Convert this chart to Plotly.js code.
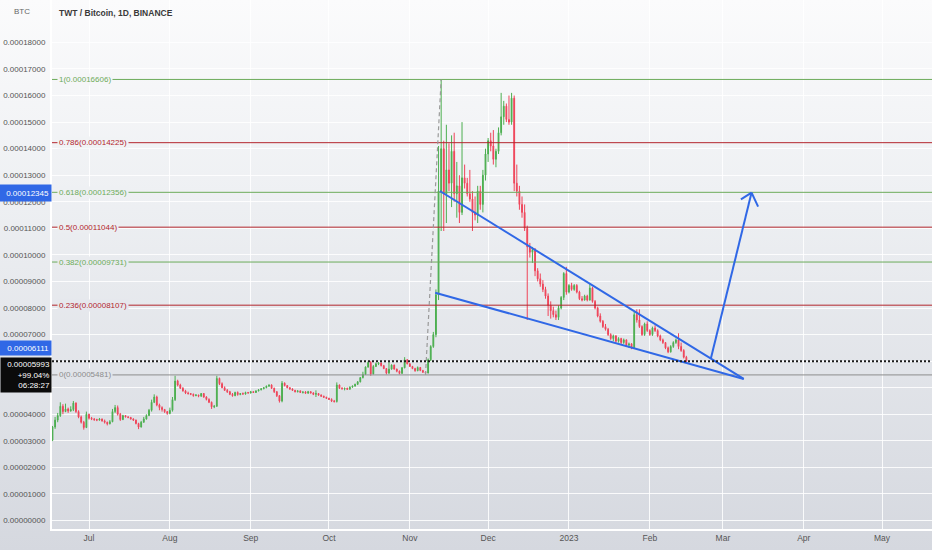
<!DOCTYPE html>
<html>
<head>
<meta charset="utf-8">
<script src="https://cdn.plot.ly/plotly-3.0.1.min.js"></script>
<style>
  html, body { margin: 0; padding: 0; }
  body { width: 932px; height: 550px; background: linear-gradient(180deg, #fbfbfc 0%, #eef0f3 35%, #d5d8df 100%); }
  #chart { width: 932px; height: 550px; }
</style>
</head>
<body>
<div id="chart"></div>
<script>
// TWT / BTC daily candles, prices in satoshi (1e-8 BTC)
const firstDay = '2022-06-17';
const SAT = 1e-8;

const open = [
  3020,3520,3780,3950,4300,4100,4200,4120,4180,4420,4100,3900,3700,3500,4000,3850,3820,3800,3780,3820,
  3750,3700,3640,3720,4100,4250,4000,3800,3950,3900,3880,3820,3780,3650,3520,3700,3820,3950,4150,4450,
  4650,4350,4250,4180,4100,4030,4150,4550,5250,5100,4980,4880,4800,4780,4750,4700,4720,4680,4780,4650,
  4560,4450,4280,4300,5350,5150,5000,4900,4850,4750,4700,4820,4740,4780,4760,4820,4800,4850,4820,4880,
  4920,4960,5000,5060,5100,4980,4850,4700,4500,5170,5080,5000,4950,4900,4850,4880,4820,4840,4790,4850,
  4800,4750,4780,4720,4680,4640,4600,4560,4500,4480,5100,4980,4960,4980,4940,5020,5060,5130,5220,5380,
  5500,5780,5950,5520,5800,5900,5930,5830,5720,5550,5700,5850,5700,5620,5540,5750,6050,5900,5800,5720,
  5640,5760,5650,5580,5550,6050,6550,7000,8500,12400,14000,12300,13200,12700,13900,12300,12600,11600,12900,12700,
  12300,12100,11600,11500,12400,11900,13000,13800,14300,14100,13600,13900,14600,15200,15600,15100,15000,15900,12700,12400,
  11900,11600,11000,10300,10100,10200,9400,9100,8900,8700,8450,8100,7900,7750,7650,8000,8400,9300,8600,8850,
  8700,8850,8600,8350,8300,8450,8300,8750,8250,8000,7700,7500,7300,7200,7000,6850,6950,6750,6850,6700,
  6800,6600,6650,6500,7750,7550,7300,7000,7400,7150,7000,7250,7150,6950,6800,6700,6500,6350,6550,6700,
  6800,6550,6400,6150
];
const high = [
  3560,3900,4050,4450,4380,4400,4250,4300,4500,4450,4150,3950,3750,4100,4020,3900,3860,3830,3860,3840,
  3800,3720,3780,4200,4350,4330,4050,3980,3970,3930,3900,3850,3800,3680,3750,3900,4000,4200,4550,4750,
  4700,4400,4300,4200,4120,4250,4650,5450,5300,5150,5020,4920,4850,4800,4780,4760,4740,4800,4800,4680,
  4600,4480,4350,5450,5380,5200,5050,4950,4880,4800,4850,4860,4800,4820,4850,4840,4880,4870,4900,4940,
  4980,5020,5080,5120,5130,5000,4870,4720,5250,5200,5100,5020,4980,4920,4900,4900,4860,4870,4880,4870,
  4830,4900,4800,4750,4700,4660,4620,4600,4540,5200,5120,5020,5000,5000,5050,5080,5150,5250,5400,5600,
  5800,5990,6000,5850,5950,5960,5950,5860,5740,6000,5880,5870,5720,5650,5780,6150,6080,5920,5820,5750,
  5800,5780,5670,5620,6100,6600,7100,8700,14100,16606,14300,14900,14200,14500,14600,13500,13000,15000,13400,12900,
  13200,12400,12200,12600,12600,13200,14000,14400,14600,14700,14000,14800,16100,15800,15700,16000,16100,16000,13400,12600,
  12200,11900,11100,10450,10300,10260,9500,9300,9050,8800,8550,8250,8050,7900,8100,8450,9350,9550,8900,8950,
  8900,8900,8650,8450,8500,8500,8900,8800,8300,8050,7800,7550,7400,7250,7050,7000,6980,6900,6880,6850,
  6820,6700,6680,7850,7950,7950,7350,7450,7500,7200,7300,7350,7200,7000,6850,6720,6550,6600,6750,6850,
  7050,6700,6450,6200
];
const low = [
  2990,3450,3700,3900,4000,4080,4050,4100,4120,4050,3850,3650,3420,3480,3800,3780,3750,3740,3760,3720,
  3650,3580,3620,3700,4050,3950,3750,3780,3880,3850,3800,3750,3620,3440,3500,3680,3800,3930,4100,4420,
  4300,4150,4100,4050,3980,4000,4100,4500,5050,4950,4850,4760,4740,4720,4660,4680,4640,4660,4620,4520,
  4420,4200,4230,4280,5100,4980,4880,4800,4720,4660,4680,4700,4720,4740,4740,4780,4780,4800,4800,4860,
  4900,4940,4980,5020,4950,4800,4650,4440,4450,5050,4980,4920,4880,4820,4820,4800,4780,4770,4780,4780,
  4720,4650,4700,4660,4620,4580,4540,4460,4440,4440,4950,4930,4900,4920,4930,5000,5040,5100,5200,5350,
  5480,5750,5450,5500,5780,5850,5800,5700,5500,5520,5680,5680,5580,5500,5520,5730,5880,5780,5700,5600,
  5620,5620,5560,5481,5540,6000,6500,6900,8300,10900,10900,11200,12400,11800,12000,11400,11200,11500,12500,12200,
  12000,10900,11300,11200,11700,11600,12800,13500,13900,13400,13300,13800,14500,14900,15000,14900,14900,12400,12200,11700,
  11400,10900,7550,9900,9700,9200,9000,8800,8600,8350,7700,7600,7650,7550,7550,7950,8300,8500,8550,8650,
  8650,8550,8300,8250,8280,8250,8280,8200,7950,7650,7450,7250,7150,6950,6800,6750,6700,6700,6650,6650,
  6550,6500,6450,6480,7450,7250,6950,6950,7100,6950,6950,7100,6900,6750,6650,6450,6300,6320,6500,6650,
  6450,6350,6100,5950
];
const close = [
  3520,3780,3950,4300,4100,4200,4120,4180,4420,4100,3900,3700,3500,4000,3850,3820,3800,3780,3820,3750,
  3700,3640,3720,4100,4250,4000,3800,3950,3900,3880,3820,3780,3650,3520,3700,3820,3950,4150,4450,4650,
  4350,4250,4180,4100,4030,4150,4550,5250,5100,4980,4880,4800,4780,4750,4700,4720,4680,4780,4650,4560,
  4450,4280,4300,5350,5150,5000,4900,4850,4750,4700,4820,4740,4780,4760,4820,4800,4850,4820,4880,4920,
  4960,5000,5060,5100,4980,4850,4700,4500,5170,5080,5000,4950,4900,4850,4880,4820,4840,4790,4850,4800,
  4750,4780,4720,4680,4640,4600,4560,4500,4480,5100,4980,4960,4980,4940,5020,5060,5130,5220,5380,5500,
  5780,5950,5520,5800,5900,5930,5830,5720,5550,5700,5850,5700,5620,5540,5750,6050,5900,5800,5720,5640,
  5760,5650,5580,5550,6050,6550,7000,8500,12400,14000,12300,13200,12700,13900,12300,12600,11600,12900,12700,12300,
  12100,11600,11500,12400,11900,13000,13800,14300,14100,13600,13900,14600,15200,15600,15100,15000,15900,12700,12400,11900,
  11600,11000,10300,10100,10200,9400,9100,8900,8700,8450,8100,7900,7750,7650,8000,8400,9300,8600,8850,8700,
  8850,8600,8350,8300,8450,8300,8750,8250,8000,7700,7500,7300,7200,7000,6850,6950,6750,6850,6700,6800,
  6600,6650,6500,7750,7550,7300,7000,7400,7150,7000,7250,7150,6950,6800,6700,6500,6350,6550,6700,6800,
  6550,6400,6150,5993
];

// month ticks on the time axis
const monthTicks = ['2022-07-01','2022-08-01','2022-09-01','2022-10-01','2022-11-01','2022-12-01',
                    '2023-01-01','2023-02-01','2023-03-01','2023-04-01','2023-05-01'];
const monthLabels = ['Jul','Aug','Sep','Oct','Nov','Dec','2023','Feb','Mar','Apr','May'];
const priceTicks = [0,1000,2000,3000,4000,5000,6000,7000,8000,9000,10000,11000,12000,13000,14000,15000,16000,17000,18000];
// tick labels covered by the last-price boxes on the scale
const coveredTicks = [5000, 6000];

// fibonacci retracement (from swing low 5481 to swing high 16606)
const fibRatios = ['1','0.786','0.618','0.5','0.382','0.236','0'];
const fibPrices = [16606,14225,12356,11044,9731,8107,5481];
const fibColors = ['#6cab5a','#b3262d','#6cab5a','#b3262d','#6cab5a','#b3262d','#8c8c8c'];
const fibAnchorDates = ['2022-11-07','2022-11-13'];
const fibAnchorPrices = [5481,16606];

// falling wedge + target arrow drawn on the chart
const wedgeUpper = {dates: ['2022-11-12 12:00','2023-03-09 00:00'], prices: [12406,5330]};
const wedgeLower = {dates: ['2022-11-10 17:00','2023-03-09 00:00'], prices: [8577,5330]};
const arrowLine = {dates: ['2023-02-24 10:00','2023-03-12 00:00'], prices: [6111,12345]};
const arrowWingL = {dates: ['2023-03-07 22:00','2023-03-12 00:00'], prices: [12093,12345]};
const arrowWingR = {dates: ['2023-03-14 12:00','2023-03-12 00:00'], prices: [11815,12345]};

const lastPrice = 5993;
const lastChange = '+99.04%';
const countdown = '06:28:27';
const cursorPrices = [12345, 6111];

const dayMs = 86400000;
const t0 = Date.parse(firstDay + 'T00:00:00Z');
const dates = close.map((_, i) => new Date(t0 + i * dayMs).toISOString().slice(0, 10));
const toBtc = a => a.map(v => v * SAT);

const FONT = '"Liberation Sans", Arial, sans-serif';
const BLUE = '#3068e6';

// background colour under a pixel row, to mask the fib lines behind labels
function bgAt(py) {
  const stops = [[0, [251,251,252]], [192, [238,240,243]], [550, [213,216,223]]];
  for (let i = 1; i < stops.length; i++) {
    if (py <= stops[i][0]) {
      const f = (py - stops[i-1][0]) / (stops[i][0] - stops[i-1][0]);
      const c = stops[i-1][1].map((v, k) => Math.round(v + (stops[i][1][k] - v) * f));
      return 'rgb(' + c.join(',') + ')';
    }
  }
  return 'rgb(213,216,223)';
}
const yMin = -0.0000032, yMax = 0.00019597;
const pyOf = v => 529 * (yMax - v) / (yMax - yMin);

const candles = {
  type: 'candlestick',
  x: dates,
  open: toBtc(open), high: toBtc(high), low: toBtc(low), close: toBtc(close),
  increasing: {line: {color: '#4caf50', width: 1}, fillcolor: '#4caf50'},
  decreasing: {line: {color: '#ef4459', width: 1}, fillcolor: '#ef4459'},
  whiskerwidth: 0,
  hoverinfo: 'skip'
};

const shapes = [];
const annotations = [];

fibPrices.forEach((p, i) => {
  shapes.push({type: 'line', xref: 'paper', x0: 0, x1: 1, yref: 'y', y0: p * SAT, y1: p * SAT,
               line: {color: fibColors[i], width: 1}});
  annotations.push({xref: 'paper', x: 0, xshift: 5, xanchor: 'left', yref: 'y', y: p * SAT, yanchor: 'middle',
                    text: fibRatios[i] + '(' + (p * SAT).toFixed(8) + ')', showarrow: false,
                    font: {family: FONT, size: 8, color: fibColors[i]}, bgcolor: bgAt(pyOf(p * SAT)), borderpad: 1});
});

shapes.push({type: 'line', xref: 'x', yref: 'y', x0: fibAnchorDates[0], x1: fibAnchorDates[1],
             y0: fibAnchorPrices[0] * SAT, y1: fibAnchorPrices[1] * SAT,
             line: {color: '#9a9a9a', width: 1.2, dash: '4px,3px'}});

[wedgeUpper, wedgeLower, arrowLine, arrowWingL, arrowWingR].forEach(l => {
  shapes.push({type: 'line', xref: 'x', yref: 'y', x0: l.dates[0], x1: l.dates[1],
               y0: l.prices[0] * SAT, y1: l.prices[1] * SAT, line: {color: BLUE, width: 2}});
});

// last price dotted line
shapes.push({type: 'line', xref: 'paper', x0: 0, x1: 1, yref: 'y', y0: lastPrice * SAT, y1: lastPrice * SAT,
             line: {color: '#1b1b1b', width: 2, dash: '2px,2px'}});

// title and currency
annotations.push({xref: 'paper', x: 0, xshift: 5, xanchor: 'left', yref: 'paper', y: 1, yshift: -13, yanchor: 'middle',
                  text: '<b>TWT / Bitcoin, 1D, BINANCE</b>', showarrow: false,
                  font: {family: FONT, size: 8.5, color: '#3a3a3a'}});
annotations.push({xref: 'paper', x: 0, xshift: -40, xanchor: 'left', yref: 'paper', y: 1, yshift: -11, yanchor: 'middle',
                  text: 'BTC', showarrow: false, font: {family: FONT, size: 8, color: '#666'}});

// price labels on the axis
annotations.push({xref: 'paper', x: 0, xanchor: 'right', yref: 'y', y: cursorPrices[0] * SAT, yanchor: 'middle',
                  text: (cursorPrices[0] * SAT).toFixed(8), showarrow: false, align: 'right', width: 48, height: 12,
                  bgcolor: BLUE, borderpad: 2, font: {family: FONT, size: 8, color: '#fff'}});
annotations.push({xref: 'paper', x: 0, xanchor: 'right', yref: 'y', y: lastPrice * SAT, yanchor: 'bottom', yshift: 5,
                  text: (cursorPrices[1] * SAT).toFixed(8), showarrow: false, align: 'right', width: 48, height: 10,
                  bgcolor: BLUE, borderpad: 2, font: {family: FONT, size: 8, color: '#fff'}});
annotations.push({xref: 'paper', x: 0, xanchor: 'right', yref: 'y', y: lastPrice * SAT, yanchor: 'top', yshift: 4,
                  text: (lastPrice * SAT).toFixed(8) + '<br>' + lastChange + '<br>' + countdown,
                  showarrow: false, align: 'right', width: 48, height: 32,
                  bgcolor: '#0b0b0b', borderpad: 1, font: {family: FONT, size: 8, color: '#fff'}});

const layout = {
  width: 932, height: 550,
  margin: {l: 52, r: 0, t: 0, b: 21, pad: 0},
  paper_bgcolor: 'rgba(0,0,0,0)',
  plot_bgcolor: 'rgba(0,0,0,0)',
  showlegend: false,
  boxgap: 0.55,
  font: {family: FONT, size: 8, color: '#555'},
  xaxis: {
    type: 'date', range: ['2022-06-16 19:35', '2023-05-20 04:00'],
    rangeslider: {visible: false},
    tickvals: monthTicks, ticktext: monthLabels, ticks: '',
    showgrid: true, gridcolor: 'rgba(255,255,255,0.85)', gridwidth: 1,
    showline: true, linecolor: '#ffffff', linewidth: 2,
    tickfont: {family: FONT, size: 8.5, color: '#555'}, fixedrange: true
  },
  yaxis: {
    range: [yMin, yMax], side: 'left',
    tickvals: toBtc(priceTicks),
    ticktext: priceTicks.map(v => coveredTicks.includes(v) ? '' : (v * SAT).toFixed(8)),
    ticks: '', ticklabelstandoff: 3,
    showgrid: true, gridcolor: 'rgba(255,255,255,0.85)', gridwidth: 1, zeroline: false,
    showline: true, linecolor: '#ffffff', linewidth: 2,
    tickfont: {family: FONT, size: 8, color: '#555'}, fixedrange: true
  },
  shapes: shapes,
  annotations: annotations
};

Plotly.newPlot('chart', [candles], layout, {displayModeBar: false, staticPlot: true});
</script>
</body>
</html>
